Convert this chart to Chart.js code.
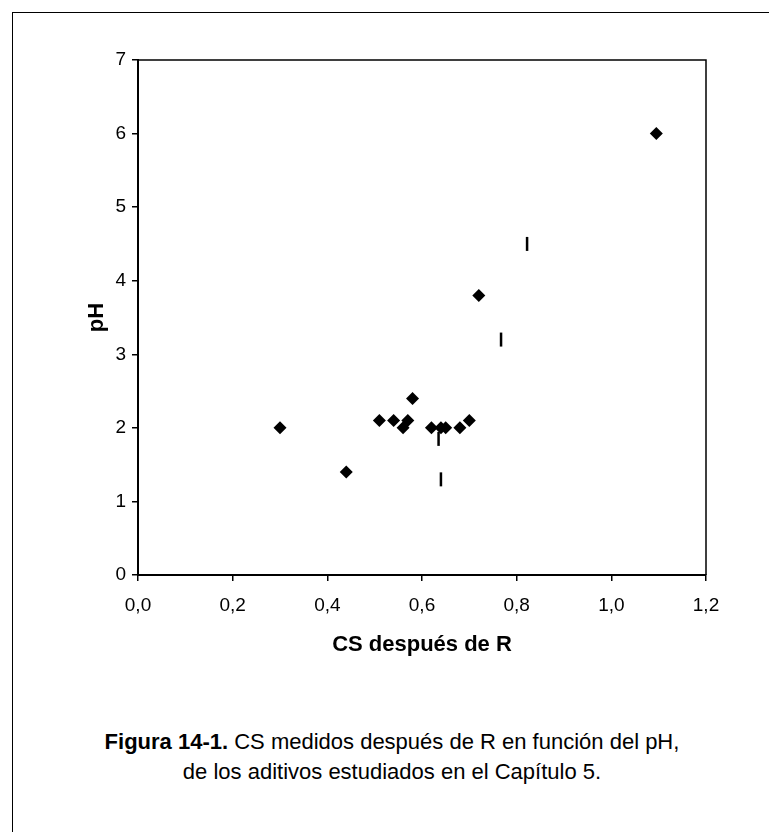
<!DOCTYPE html>
<html lang="es">
<head>
<meta charset="UTF-8">
<title>Figura 14-1</title>
<script src="https://cdn.jsdelivr.net/npm/chart.js"></script>
<style>
    body {
        margin: 0;
        background: #fff;
        font-family: Arial, "Liberation Sans", sans-serif;
    }
    .marco {
        position: absolute;
        left: 12px;
        top: 12px;
        width: 900px;
        height: 900px;
        border: 1.5px solid #000;
    }
    .grafico {
        position: absolute;
        left: 0;
        top: 0;
        width: 769px;
        height: 670px;
    }
    .leyenda {
        position: absolute;
        left: 0;
        width: 784px;
        top: 727px;
        text-align: center;
        font-size: 22px;
        line-height: 30px;
        color: #000;
    }
</style>
</head>
<body>
<div class="marco"></div>
<div class="grafico"><canvas id="graf" width="769" height="670"></canvas></div>
<div class="leyenda"><b>Figura 14-1.</b> CS medidos después de R en función del pH,<br>de los aditivos estudiados en el Capítulo 5.</div>
<script>
    // valores
    let csRombos = [0.30, 0.44, 0.51, 0.54, 0.56, 0.57, 0.58, 0.62, 0.64, 0.65, 0.68, 0.70, 0.72, 1.095];
    let phRombos = [2.0, 1.4, 2.1, 2.1, 2.0, 2.1, 2.4, 2.0, 2.0, 2.0, 2.0, 2.1, 3.8, 6.0];
    let csGuiones = [0.635, 0.64, 0.767, 0.822];
    let phGuiones = [1.85, 1.3, 3.2, 4.5];

    let ejeX = { min: 0, max: 1.2, paso: 0.2, titulo: "CS después de R" };
    let ejeY = { min: 0, max: 7, paso: 1, titulo: "pH" };

    function puntos(xs, ys) {
        return xs.map(function(x, i) {
            return { x: x, y: ys[i] };
        });
    }

    // caja alrededor del area del grafico
    let caja = {
        id: 'caja',
        afterDraw: function(chart) {
            let a = chart.chartArea;
            let ctx = chart.ctx;
            ctx.save();
            ctx.strokeStyle = '#000';
            ctx.lineWidth = 1.5;
            ctx.beginPath();
            ctx.moveTo(a.left, a.top);
            ctx.lineTo(a.right, a.top);
            ctx.lineTo(a.right, a.bottom);
            ctx.stroke();
            ctx.restore();
        }
    };

    new Chart(document.getElementById("graf"), {
        type: 'scatter',
        data: {
            datasets: [{
                data: puntos(csGuiones, phGuiones),
                pointStyle: 'line',
                rotation: 90,
                radius: 7,
                borderWidth: 2.5,
                borderColor: '#000',
                backgroundColor: '#000'
            }, {
                data: puntos(csRombos, phRombos),
                pointStyle: 'rectRot',
                radius: 6.5,
                borderWidth: 0,
                borderColor: '#000',
                backgroundColor: '#000'
            }]
        },
        options: {
            responsive: false,
            animation: false,
            events: [],
            layout: {
                padding: { left: 0, top: 60, right: 63, bottom: 0 }
            },
            plugins: {
                legend: { display: false },
                tooltip: { enabled: false }
            },
            scales: {
                x: {
                    type: 'linear',
                    min: ejeX.min,
                    max: ejeX.max,
                    afterFit: function(s) { s.height = 95; },
                    border: { display: true, color: '#000', width: 2 },
                    grid: { display: true, drawOnChartArea: false, drawTicks: true, tickLength: 6, color: '#000', lineWidth: 1.5 },
                    ticks: {
                        stepSize: ejeX.paso,
                        padding: 13,
                        color: '#000',
                        font: { family: 'Arial, "Liberation Sans"', size: 19 },
                        callback: function(v) { return v.toFixed(1).replace('.', ','); }
                    },
                    title: {
                        display: true,
                        text: ejeX.titulo,
                        color: '#000',
                        padding: { top: 4, bottom: 12 },
                        font: { family: 'Arial, "Liberation Sans"', size: 22, weight: 'bold' }
                    }
                },
                y: {
                    type: 'linear',
                    min: ejeY.min,
                    max: ejeY.max,
                    afterFit: function(s) { s.width = 138; },
                    border: { display: true, color: '#000', width: 2 },
                    grid: { display: true, drawOnChartArea: false, drawTicks: true, tickLength: 6, color: '#000', lineWidth: 1.5 },
                    ticks: {
                        stepSize: ejeY.paso,
                        padding: 6,
                        color: '#000',
                        font: { family: 'Arial, "Liberation Sans"', size: 19 }
                    },
                    title: {
                        display: true,
                        text: ejeY.titulo,
                        color: '#000',
                        padding: { top: 84, bottom: 0 },
                        font: { family: 'Arial, "Liberation Sans"', size: 22, weight: 'bold' }
                    }
                }
            }
        },
        plugins: [caja]
    });
</script>
</body>
</html>
